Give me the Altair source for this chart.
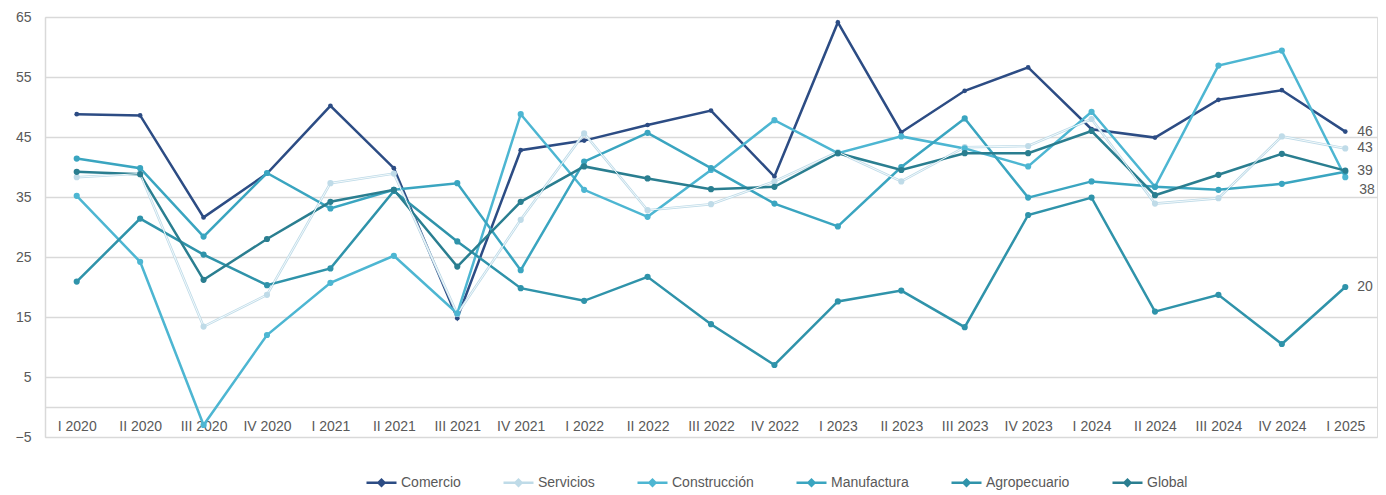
import altair as alt
import pandas as pd

quarters = ["I 2020", "II 2020", "III 2020", "IV 2020", "I 2021", "II 2021", "III 2021",
            "IV 2021", "I 2022", "II 2022", "III 2022", "IV 2022", "I 2023", "II 2023",
            "III 2023", "IV 2023", "I 2024", "II 2024", "III 2024", "IV 2024", "I 2025"]

comercio = [48.8, 48.6, 31.6, 38.9, 50.2, 39.8, 14.8, 42.8, 44.4, 47.0, 49.4, 38.4, 64.1, 45.8,
            52.7, 56.6, 46.3, 44.9, 51.2, 52.8, 45.9]
servicios = [38.3, 38.9, 13.4, 18.7, 37.3, 38.9, 15.5, 31.2, 45.6, 32.8, 33.8, 37.6, 42.5, 37.6,
             43.3, 43.5, 48.0, 33.9, 34.8, 45.1, 43.1]
construccion = [35.2, 24.2, -3.0, 12.0, 20.7, 25.2, 15.6, 48.8, 36.2, 31.7, 39.5, 47.8, 42.3, 45.1,
                43.1, 40.1, 49.2, 36.7, 56.9, 59.4, 38.3]
manufactura = [41.4, 39.8, 28.4, 39.0, 33.1, 36.2, 37.3, 22.8, 40.9, 45.7, 39.8, 33.9, 30.1, 40.0,
               48.1, 34.9, 37.6, 36.7, 36.2, 37.2, 39.2]
agropecuario = [20.9, 31.4, 25.4, 20.3, 23.1, 36.0, 27.6, 19.8, 17.7, 21.7, 13.8, 7.0, 17.6, 19.4,
                13.3, 32.0, 34.9, 15.9, 18.7, 10.5, 20.0]
global_idx = [39.2, 38.8, 21.2, 28.0, 34.2, 36.2, 23.4, 34.2, 40.1, 38.1, 36.3, 36.7, 42.3, 39.5,
              42.3, 42.3, 46.0, 35.3, 38.7, 42.2, 39.4]

series_names = ["Comercio", "Servicios", "Construcción", "Manufactura", "Agropecuario", "Global"]
series_values = [comercio, servicios, construccion, manufactura, agropecuario, global_idx]
series_colors = ["#2C4C84", "#BFDBE8", "#4DB6D2", "#3AA5C0", "#2F93AA", "#2A7E90"]
labeled_series = ["Comercio", "Servicios", "Global", "Construcción", "Agropecuario"]

rows = []
for name, vals in zip(series_names, series_values):
    for i, (q, v) in enumerate(zip(quarters, vals)):
        rows.append({"series": name, "quarter": q, "idx": i, "value": v})
df = pd.DataFrame(rows)

FONT = "Liberation Sans"
TXT = "#595959"
GRID = "#D9D9D9"

x_enc = alt.X("quarter:N", sort=quarters, scale=alt.Scale(type="point", padding=0.5),
              axis=alt.Axis(title=None, orient="bottom", offset=-30, domain=True,
                            domainColor=GRID, domainWidth=1.5, ticks=False, labelAngle=0,
                            labelPadding=12, labelFontSize=14, labelColor=TXT, grid=False,
                            labelFont=FONT))
y_enc = alt.Y("value:Q", scale=alt.Scale(domain=[-5, 65], nice=False, zero=False),
              axis=alt.Axis(title=None, values=list(range(-5, 66, 10)), grid=True,
                            gridColor=GRID, gridWidth=1.5, domain=True, domainColor=GRID,
                            domainWidth=1.5, ticks=False, labelPadding=14, labelFontSize=14,
                            labelColor=TXT, labelFont=FONT))

color_scale = alt.Scale(domain=series_names, range=series_colors)

base = alt.Chart(df)

lines = base.mark_line(strokeWidth=2.5).encode(
    x=x_enc, y=y_enc,
    color=alt.Color("series:N", scale=color_scale, sort=series_names,
                    legend=alt.Legend(title=None, orient="none", direction="horizontal",
                                      legendX=320, legendY=449,
                                      symbolType="M-1,0L1,0M-0.2,0L0,-0.2L0.2,0L0,0.2Z",
                                      symbolSize=900, symbolStrokeWidth=2.5,
                                      labelFontSize=14, labelColor=TXT, labelFont=FONT,
                                      columnPadding=37, labelOffset=3, padding=0)),
    order="idx:Q",
)

serv_inner = base.transform_filter(alt.datum.series == "Servicios").mark_line(
    strokeWidth=1.0, color="#F4FAFC").encode(x=x_enc, y=y_enc, order="idx:Q")

points = base.mark_point(filled=True, opacity=1).encode(
    x=x_enc, y=y_enc,
    color=alt.Color("series:N", scale=color_scale, legend=None),
    size=alt.condition(alt.datum.series == "Comercio", alt.value(22), alt.value(38)),
)

last = base.transform_filter(alt.datum.quarter == quarters[-1])
labels_main = last.transform_filter(
    alt.FieldOneOfPredicate(field="series", oneOf=[s for s in labeled_series if s != "Construcción"])
).mark_text(align="left", baseline="middle", dx=12, fontSize=14, color=TXT, font=FONT).encode(
    x=x_enc, y=y_enc, text=alt.Text("value:Q", format=".0f"))
labels_low = last.transform_filter(alt.datum.series == "Construcción").mark_text(
    align="left", baseline="middle", dx=14, dy=13, fontSize=14, color=TXT, font=FONT).encode(
    x=x_enc, y=y_enc, text=alt.Text("value:Q", format=".0f"))

chart = alt.layer(lines, serv_inner, points, labels_main, labels_low).properties(
    width=1332, height=420,
    autosize=alt.AutoSizeParams(type="none"),
    padding={"left": 37, "top": 9, "right": 1, "bottom": 58},
).configure_view(stroke=None).configure(font=FONT)

chart.save("out.html", embed_options={"renderer": "svg", "actions": False})
